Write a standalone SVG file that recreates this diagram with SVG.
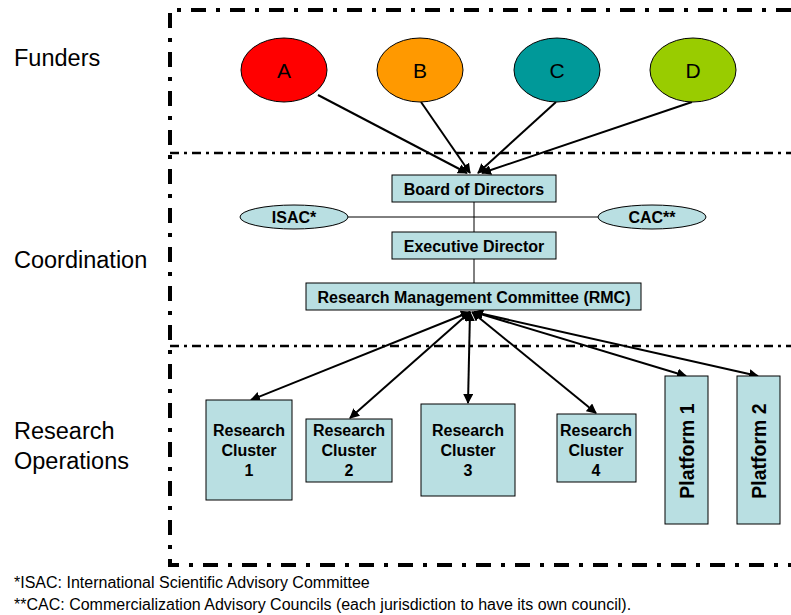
<svg xmlns="http://www.w3.org/2000/svg" width="791" height="615" viewBox="0 0 791 615">
<style>
.frame{fill:none;stroke:#000;stroke-width:4;stroke-dasharray:15,10,4,10}
.div{fill:none;stroke:#000;stroke-width:2.5;stroke-dasharray:9,5,3,5}
.lbl{font-family:"Liberation Sans",Arial,sans-serif;font-size:23.5px;fill:#000}
.box{fill:#b9dfe2;stroke:#000;stroke-width:1}
.bt{font-family:"Liberation Sans",Arial,sans-serif;font-size:16px;font-weight:bold;fill:#000;text-anchor:middle}
.pt{font-family:"Liberation Sans",Arial,sans-serif;font-size:19.5px;font-weight:bold;fill:#000;text-anchor:middle}
.ft{font-family:"Liberation Sans",Arial,sans-serif;font-size:21px;fill:#000;text-anchor:middle}
.fn{font-family:"Liberation Sans",Arial,sans-serif;font-size:16px;fill:#000}
.conn{stroke:#000;stroke-width:2;fill:none}
.thin{stroke:#000;stroke-width:1;fill:none}
</style>
<defs>
<marker id="ah" viewBox="0 0 10 10" refX="9" refY="5" markerWidth="5" markerHeight="5" orient="auto-start-reverse" markerUnits="strokeWidth">
<path d="M0,0 L10,5 L0,10 z" fill="#000"/>
</marker>
</defs>
<g id="frame">
<path class="frame" d="M791,10 H170 V565 H791"/>
<path class="div" d="M170,153 H791"/>
<path class="div" d="M170,346 H791"/>
</g>
<g id="labels">
<text class="lbl" x="14" y="66">Funders</text>
<text class="lbl" x="14" y="268">Coordination</text>
<text class="lbl" x="14" y="439">Research</text>
<text class="lbl" x="14" y="469">Operations</text>
</g>
<g id="connectors">
<line class="conn" x1="318" y1="95" x2="467" y2="173" marker-end="url(#ah)"/>
<line class="conn" x1="421" y1="102" x2="470" y2="173" marker-end="url(#ah)"/>
<line class="conn" x1="556" y1="102" x2="478" y2="173" marker-end="url(#ah)"/>
<line class="conn" x1="692" y1="102" x2="482" y2="173" marker-end="url(#ah)"/>
<line class="thin" x1="474" y1="202" x2="474" y2="232"/>
<line class="thin" x1="348" y1="217" x2="598" y2="217"/>
<line class="thin" x1="474" y1="259" x2="474" y2="283"/>
<line class="conn" x1="470" y1="312" x2="251" y2="400" marker-start="url(#ah)" marker-end="url(#ah)"/>
<line class="conn" x1="470" y1="312" x2="350" y2="418" marker-start="url(#ah)" marker-end="url(#ah)"/>
<line class="conn" x1="470" y1="312" x2="468" y2="403" marker-start="url(#ah)" marker-end="url(#ah)"/>
<line class="conn" x1="472" y1="312" x2="596" y2="413" marker-start="url(#ah)" marker-end="url(#ah)"/>
<line class="conn" x1="474" y1="312" x2="686" y2="376" marker-start="url(#ah)" marker-end="url(#ah)"/>
<line class="conn" x1="474" y1="312" x2="758" y2="376" marker-start="url(#ah)" marker-end="url(#ah)"/>
</g>
<g id="funderA"><ellipse cx="284" cy="70" rx="43" ry="32" fill="#ff0000" stroke="#000"/><text class="ft" x="284" y="78">A</text></g>
<g id="funderB"><ellipse cx="420" cy="70" rx="43" ry="32" fill="#ff9900" stroke="#000"/><text class="ft" x="420" y="78">B</text></g>
<g id="funderC"><ellipse cx="557" cy="70" rx="43" ry="32" fill="#009999" stroke="#000"/><text class="ft" x="557" y="78">C</text></g>
<g id="funderD"><ellipse cx="693" cy="70" rx="43" ry="32" fill="#99cc00" stroke="#000"/><text class="ft" x="693" y="78">D</text></g>
<g id="board"><rect class="box" x="392" y="175" width="164" height="27"/><text class="bt" x="474" y="194.5">Board of Directors</text></g>
<g id="isac"><ellipse class="box" cx="294" cy="217" rx="54" ry="12"/><text class="bt" x="294" y="222.5">ISAC*</text></g>
<g id="cac"><ellipse class="box" cx="652" cy="217" rx="54" ry="12"/><text class="bt" x="652" y="222.5">CAC**</text></g>
<g id="exec"><rect class="box" x="392" y="232" width="164" height="27"/><text class="bt" x="474" y="251.5">Executive Director</text></g>
<g id="rmc"><rect class="box" x="306" y="283" width="335" height="27"/><text class="bt" x="474" y="302.5">Research Management Committee (RMC)</text></g>
<g id="rc1"><rect class="box" x="206" y="400" width="86" height="100"/><text class="bt" x="249" y="436">Research</text><text class="bt" x="249" y="456">Cluster</text><text class="bt" x="249" y="476">1</text></g>
<g id="rc2"><rect class="box" x="306" y="419" width="86" height="63"/><text class="bt" x="349" y="436">Research</text><text class="bt" x="349" y="456">Cluster</text><text class="bt" x="349" y="476">2</text></g>
<g id="rc3"><rect class="box" x="421" y="404" width="94" height="92"/><text class="bt" x="468" y="436">Research</text><text class="bt" x="468" y="456">Cluster</text><text class="bt" x="468" y="476">3</text></g>
<g id="rc4"><rect class="box" x="557" y="414" width="79" height="68"/><text class="bt" x="596" y="436">Research</text><text class="bt" x="596" y="456">Cluster</text><text class="bt" x="596" y="476">4</text></g>
<g id="p1"><rect class="box" x="665" y="376" width="43" height="148"/><text class="pt" transform="translate(694,451) rotate(-90)">Platform 1</text></g>
<g id="p2"><rect class="box" x="737" y="376" width="43" height="148"/><text class="pt" transform="translate(766,451) rotate(-90)">Platform 2</text></g>
<g id="footnotes">
<text class="fn" x="14" y="588">*ISAC: International Scientific Advisory Committee</text>
<text class="fn" x="14" y="610">**CAC: Commercialization Advisory Councils (each jurisdiction to have its own council).</text>
</g>
</svg>
